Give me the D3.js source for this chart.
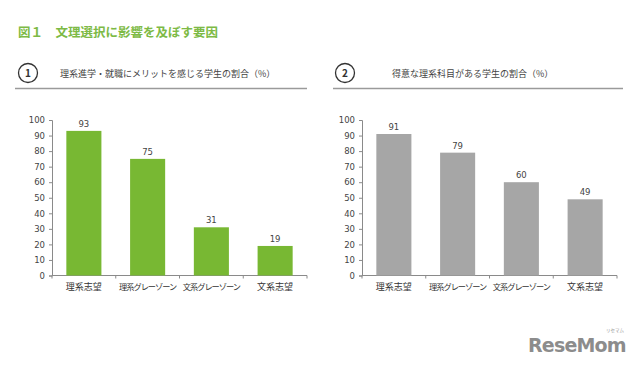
<!DOCTYPE html>
<html>
<head>
<meta charset="utf-8">
<script src="https://cdn.jsdelivr.net/npm/d3@7"></script>
<style>
  body { margin: 0; background: #fff; }
  text { font-family: "Noto Sans CJK JP", "Noto Sans", sans-serif; }
</style>
</head>
<body>
<div id="chart"></div>
<script>
var categories = ["理系志望", "理系グレーゾーン", "文系グレーゾーン", "文系志望"];
var meritValues = [93, 75, 31, 19];
var subjectValues = [91, 79, 60, 49];
var yTicks = [0, 10, 20, 30, 40, 50, 60, 70, 80, 90, 100];

var svg = d3.select("#chart").append("svg")
    .attr("width", 640)
    .attr("height", 367);

// Title
svg.append("text")
    .attr("x", 18)
    .attr("y", 37)
    .attr("font-size", 12.5)
    .attr("font-weight", "bold")
    .attr("fill", "#7dba45")
    .text("図１　文理選択に影響を及ぼす要因");

function drawPanel(opts) {
    var g = svg.append("g");

    // Number circle and subtitle
    g.append("circle")
        .attr("cx", opts.circleX)
        .attr("cy", 73)
        .attr("r", 9.5)
        .attr("fill", "none")
        .attr("stroke", "#333")
        .attr("stroke-width", 1.3);
    g.append("text")
        .attr("x", opts.circleX)
        .attr("y", 76.5)
        .attr("text-anchor", "middle")
        .attr("font-size", 10)
        .attr("font-weight", "bold")
        .attr("fill", "#333")
        .text(opts.num);
    g.append("text")
        .attr("x", opts.titleX)
        .attr("y", 76.5)
        .attr("font-size", 9)
        .attr("fill", "#444")
        .text(opts.title);
    g.append("line")
        .attr("x1", opts.lineX1)
        .attr("x2", opts.lineX2)
        .attr("y1", 88.5)
        .attr("y2", 88.5)
        .attr("stroke", "#9a9a9a")
        .attr("stroke-width", 1.5);

    var x = d3.scaleBand()
        .domain(categories)
        .range([opts.x0, opts.x1])
        .paddingInner(0.45)
        .paddingOuter(0.225);

    var y = d3.scaleLinear()
        .domain([0, 100])
        .range([275.5, 120]);

    // Y axis
    var yAxis = g.append("g")
        .attr("transform", "translate(" + opts.x0 + ",0)")
        .call(d3.axisLeft(y).tickValues(yTicks).tickSize(3).tickPadding(4));
    yAxis.selectAll("path, line").attr("stroke", "#8a8a8a");
    yAxis.selectAll("text")
        .attr("font-size", 8.5)
        .attr("fill", "#444")
        .style("font-family", "'DejaVu Sans', sans-serif");

    // X axis line with ticks between categories
    var step = x.step();
    var boundaries = d3.range(categories.length + 1).map(function (i) {
        return opts.x0 + i * step;
    });
    g.append("line")
        .attr("x1", opts.x0)
        .attr("x2", opts.x1)
        .attr("y1", y(0))
        .attr("y2", y(0))
        .attr("stroke", "#8a8a8a");
    g.selectAll(".xtick")
        .data(boundaries)
        .enter()
        .append("line")
        .attr("x1", function (d) { return d; })
        .attr("x2", function (d) { return d; })
        .attr("y1", y(0))
        .attr("y2", y(0) + 3)
        .attr("stroke", "#8a8a8a");

    // Bars
    g.selectAll(".bar")
        .data(opts.values)
        .enter()
        .append("rect")
        .attr("x", function (d, i) { return x(categories[i]); })
        .attr("y", function (d) { return y(d); })
        .attr("width", x.bandwidth())
        .attr("height", function (d) { return y(0) - y(d); })
        .attr("fill", opts.color);

    // Value labels
    g.selectAll(".val")
        .data(opts.values)
        .enter()
        .append("text")
        .attr("x", function (d, i) { return x(categories[i]) + x.bandwidth() / 2; })
        .attr("y", function (d) { return y(d) - 4; })
        .attr("text-anchor", "middle")
        .attr("font-size", 8.5)
        .attr("fill", "#444")
        .style("font-family", "'DejaVu Sans', sans-serif")
        .text(function (d) { return d; });

    // Category labels (long ones set tighter so they fit the band)
    g.selectAll(".cat")
        .data(categories)
        .enter()
        .append("text")
        .attr("x", function (d) { return x(d) + x.bandwidth() / 2; })
        .attr("y", 289.5)
        .attr("text-anchor", "middle")
        .attr("font-size", function (d) { return d.length > 4 ? 8.2 : 9; })
        .attr("letter-spacing", function (d) { return d.length > 4 ? -1 : 0; })
        .attr("fill", "#333")
        .text(function (d) { return d; });
}

drawPanel({
    num: "1", circleX: 28, titleX: 60, title: "理系進学・就職にメリットを感じる学生の割合（%）",
    lineX1: 15, lineX2: 307, x0: 52, x1: 307, values: meritValues, color: "#78b833"
});
drawPanel({
    num: "2", circleX: 345, titleX: 392, title: "得意な理系科目がある学生の割合（%）",
    lineX1: 333, lineX2: 623, x0: 362, x1: 617, values: subjectValues, color: "#a6a6a6"
});

// Watermark
svg.append("text")
    .attr("x", 528)
    .attr("y", 352)
    .attr("font-size", 19)
    .attr("font-weight", "bold")
    .attr("fill", "#8c8c8c")
    .style("font-family", "'DejaVu Sans', sans-serif")
    .attr("letter-spacing", -0.8)
    .text("ReseMom");
svg.append("text")
    .attr("x", 606)
    .attr("y", 332)
    .attr("font-size", 4.5)
    .attr("fill", "#999")
    .text("リセマム");
</script>
</body>
</html>
